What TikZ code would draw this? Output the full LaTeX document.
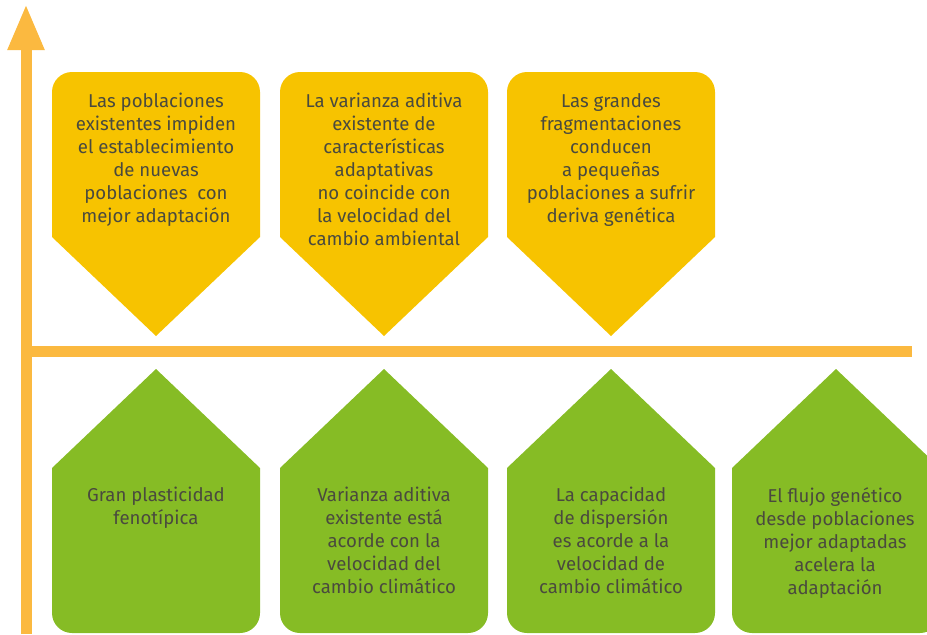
\documentclass[tikz,border=0pt]{standalone}
\usepackage{fontspec}
\setmainfont{Fira Sans}
\usetikzlibrary{arrows.meta}

\definecolor{axisorange}{HTML}{FBB940}
\definecolor{boxyellow}{HTML}{F7C300}
\definecolor{boxgreen}{HTML}{86BC25}
\definecolor{txtgray}{HTML}{4A4A3E}

\tikzset{
  txt/.style={align=center, text=txtgray, anchor=north, inner sep=0pt,
    font=\fontsize{9.3}{11.5}\selectfont},
  axisline/.style={draw=axisorange, line width=5.5pt},
}

\begin{document}
\begin{tikzpicture}[x=0.5pt, y=-0.5pt]
		\useasboundingbox (0,0) rectangle (927,634);
		\clip (0,0) rectangle (927,634);
		% axes
		\coordinate (origin) at (26,634); \coordinate (top) at (26,4);
		\coordinate (hstart) at (26,351); \coordinate (hend) at (912,351);
		\draw[axisline, -{Triangle[width=17pt,length=23pt]}] (origin) -- (top);
		\draw[axisline] (hstart) -- (hend);
		% upper (yellow) boxes
		\foreach \x in {52,280,507} {
			\fill[boxyellow] (\x,237) -- (\x,92) arc[start angle=180, end angle=90,
			radius=10pt] -- (\x+188,72) arc[start angle=90, end angle=0, radius=10pt]
			-- (\x+208,237) -- (\x+104,336) -- cycle;
		}
		% lower (green) boxes
		\foreach \x in {52,280,507,732} {
			\fill[boxgreen] (\x,468) -- (\x+104,369) -- (\x+208,468) -- (\x+208,613)
			arc[start angle=0, end angle=-90, radius=10pt] -- (\x+20,633)
			arc[start angle=270, end angle=180, radius=10pt] -- cycle;
		}
		\node[txt] (y1) at (156,93) {Las poblaciones\\existentes impiden\\el
			establecimiento\\de nuevas\\poblaciones~ con\\mejor adaptación};
		\node[txt] (y2) at (384,93) {La varianza aditiva\\existente de\\
			características\\adaptativas\\no coincide con\\la velocidad del\\cambio
			ambiental};
		\node[txt] (y3) at (611,93) {Las grandes\\fragmentaciones\\conducen\\a
			pequeñas\\poblaciones a sufrir\\deriva genética};
		\node[txt] (g1) at (156,487) {Gran plasticidad\\fenotípica};
		\node[txt] (g2) at (384,487) {Varianza aditiva\\existente está\\acorde con
			la\\velocidad del\\cambio climático};
		\node[txt] (g3) at (611,487) {La capacidad\\de dispersión\\es acorde a
			la\\velocidad de\\cambio climático};
		\node[txt] (g4) at (835,487) {El flujo genético\\desde poblaciones\\mejor
			adaptadas\\acelera la\\adaptación};
	\end{tikzpicture}
\end{document}
